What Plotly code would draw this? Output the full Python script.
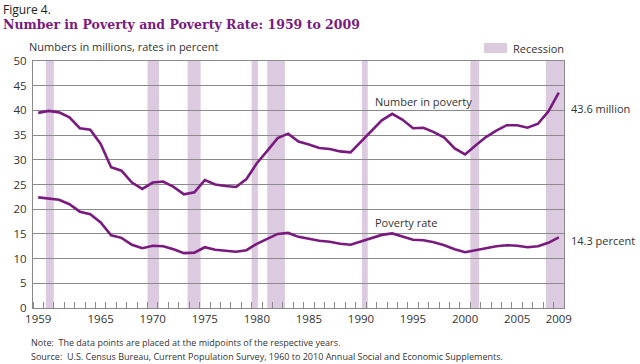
import plotly.graph_objects as go

years = list(range(1959, 2010))
number_millions = [39.5, 39.9, 39.6, 38.6, 36.4, 36.1, 33.2, 28.5, 27.8, 25.4,
                   24.1, 25.4, 25.6, 24.5, 23.0, 23.4, 25.9, 25.0, 24.7, 24.5,
                   26.1, 29.3, 31.8, 34.4, 35.3, 33.7, 33.1, 32.4, 32.2, 31.7,
                   31.5, 33.6, 35.7, 38.0, 39.3, 38.1, 36.4, 36.5, 35.6, 34.5,
                   32.3, 31.1, 32.9, 34.6, 35.9, 37.0, 37.0, 36.5, 37.3, 39.8,
                   43.6]
poverty_rate = [22.4, 22.2, 21.9, 21.0, 19.5, 19.0, 17.3, 14.7, 14.2, 12.8,
                12.1, 12.6, 12.5, 11.9, 11.1, 11.2, 12.3, 11.8, 11.6, 11.4,
                11.7, 13.0, 14.0, 15.0, 15.2, 14.4, 14.0, 13.6, 13.4, 13.0,
                12.8, 13.5, 14.2, 14.8, 15.1, 14.5, 13.8, 13.7, 13.3, 12.7,
                11.9, 11.3, 11.7, 12.1, 12.5, 12.7, 12.6, 12.3, 12.5, 13.2,
                14.3]
recession_start = [1960.25, 1970.0, 1973.85, 1980.0, 1981.5, 1990.6, 2001.0, 2008.25]
recession_end = [1961.0, 1971.1, 1975.1, 1980.6, 1983.2, 1991.15, 2001.85, 2010.0]
x_tick_labels = ["1959", "1965", "1970", "1975", "1980", "1985", "1990", "1995", "2000", "2005", "2009"]
y_ticks = list(range(0, 55, 5))

PURPLE = "#7a1a7f"
BAND = "#dccbe0"
GRID = "#8a8a8a"
TXT = "#333333"
FONT = "Open Sans"

x_mid = [y + 0.5 for y in years]
x_tick_vals = [int(t) + 0.5 for t in x_tick_labels]

fig = go.Figure()
fig.add_trace(go.Scatter(x=x_mid, y=number_millions, mode="lines",
                         line=dict(color=PURPLE, width=2.6), showlegend=False,
                         hoverinfo="skip"))
fig.add_trace(go.Scatter(x=x_mid, y=poverty_rate, mode="lines",
                         line=dict(color=PURPLE, width=2.6), showlegend=False,
                         hoverinfo="skip"))

for s, e in zip(recession_start, recession_end):
    fig.add_shape(type="rect", xref="x", yref="paper", x0=s, x1=e, y0=0, y1=1,
                  fillcolor=BAND, line=dict(width=0), layer="below")

# legend swatch (paper coords)
fig.add_shape(type="rect", xref="paper", yref="paper",
              x0=(484 - 33) / 531, x1=(507 - 33) / 531,
              y0=(308 - 53) / 247, y1=(308 - 43) / 247,
              fillcolor=BAND, line=dict(width=0))

def ann(text, px, py, size=11, color=TXT, xanchor="left", family=FONT):
    fig.add_annotation(text=text, xref="paper", yref="paper",
                       x=(px - 33) / 531, y=(308 - py) / 247,
                       xanchor=xanchor, yanchor="middle", showarrow=False,
                       font=dict(size=size, color=color, family=family))

ann("Recession", 511, 48, size=11)
ann("Figure 4.", 1, 9, size=12, color="#222222")
ann("<b>Number in Poverty and Poverty Rate: 1959 to 2009</b>", 1, 24, size=12.5,
    color=PURPLE, family="DejaVu Serif")
ann("Numbers in millions, rates in percent", 27, 47, size=11)
ann("Number in poverty", 373, 101, size=11)
ann("Poverty rate", 373, 222, size=11)
ann("43.6 million", 569, 108, size=11)
ann("14.3 percent", 569, 240, size=11)
ann("Note:  The data points are placed at the midpoints of the respective years.",
    29, 342, size=9)
ann("Source:  U.S. Census Bureau, Current Population Survey, 1960 to 2010 Annual Social and Economic Supplements.",
    29, 356, size=9)

fig.update_layout(
    width=640, height=364,
    margin=dict(l=33, r=76, t=61, b=56),
    paper_bgcolor="white", plot_bgcolor="white",
    font=dict(family=FONT, size=11, color=TXT),
    xaxis=dict(range=[1959, 2010], tickmode="array", tickvals=x_tick_vals,
               ticktext=x_tick_labels, ticks="", showgrid=False, zeroline=False,
               showline=True, linecolor=GRID, linewidth=1, mirror=True,
               tickfont=dict(size=11.5, color=TXT),
               minor=dict(tickmode="linear", tick0=1959, dtick=1, ticks="inside",
                          ticklen=6, tickcolor=GRID, showgrid=False)),
    yaxis=dict(range=[0, 50], tickmode="array", tickvals=y_ticks, ticks="",
               showgrid=True, gridcolor=GRID, gridwidth=1, zeroline=False,
               showline=True, linecolor=GRID, linewidth=1, mirror=True,
               tickfont=dict(size=11.5, color=TXT), ticklabelstandoff=3),
)

fig.write_html("out.html", config={"displayModeBar": False},
               post_script="document.body.style.margin='0';document.body.style.padding='0';")
